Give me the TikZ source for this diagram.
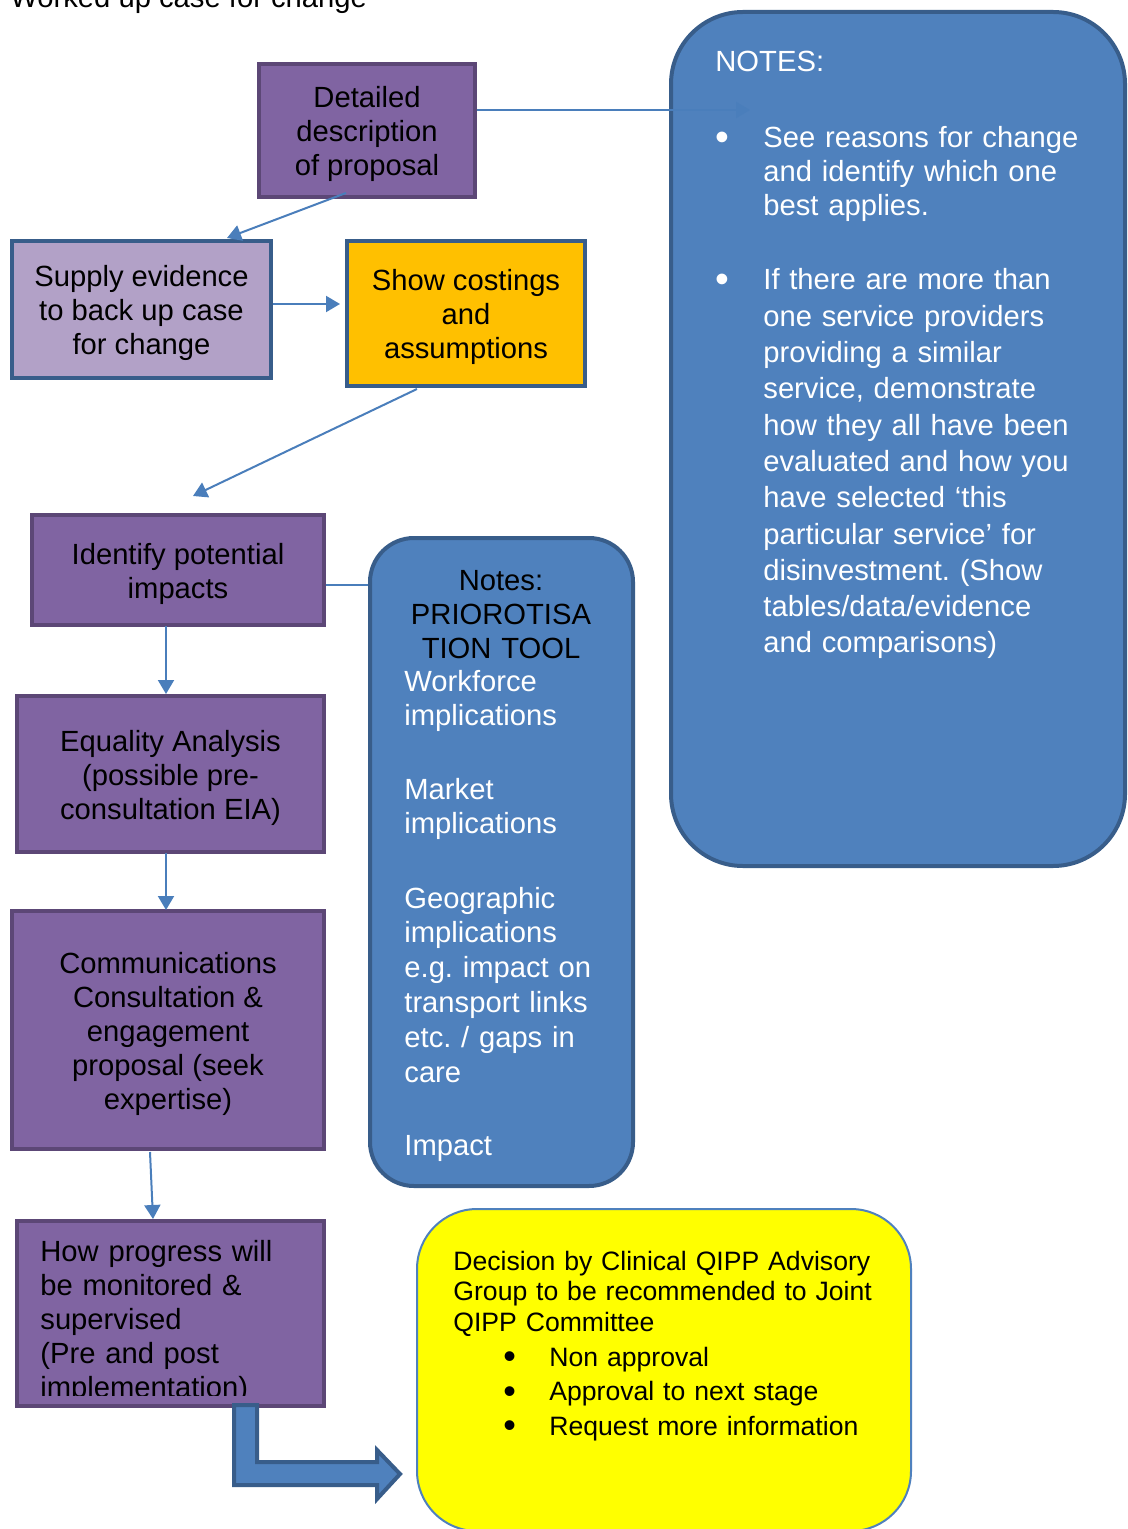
\documentclass[tikz,border=0pt]{standalone}
\usepackage{fontspec}
\usepackage{graphicx}
\setmainfont{Liberation Sans}
\usetikzlibrary{arrows.meta,calc}
\frenchspacing
\definecolor{purp}{HTML}{8064A2}
\definecolor{purpd}{HTML}{5C4776}
\definecolor{lav}{HTML}{B2A1C7}
\definecolor{orng}{HTML}{FFC000}
\definecolor{blu}{HTML}{4F81BD}
\definecolor{blud}{HTML}{385D8A}
\definecolor{connc}{HTML}{4A7EBB}
\definecolor{yel}{HTML}{FFFF00}
\newcommand\myfs{\fontsize{14.6pt}{17pt}\selectfont}
\newcommand\myfsb{\fontsize{14.6pt}{18.15pt}\selectfont}
\newcommand\myfsc{\fontsize{14.6pt}{17.4pt}\selectfont}
\newcommand\myfsy{\fontsize{13.3pt}{15.25pt}\selectfont}
\newcommand\myfsyb{\fontsize{13.3pt}{17.25pt}\selectfont}
\newcommand\mybul{\raisebox{-0.1em}{\scalebox{1.35}{\textbullet}}}
\begin{document}
\frenchspacing
\begin{tikzpicture}[x=0.5pt,y=-0.5pt,
  box/.style={draw, line width=2pt, rectangle, inner sep=0pt},
  pbox/.style={box, fill=purp, draw=purpd},
  btxt/.style={inner sep=0pt, align=center, font=\myfs},
  rnote/.style={draw=blud, fill=blu, line width=2pt, rectangle, inner sep=0pt},
  txt/.style={inner sep=0pt, anchor=base west, font=\myfs},
  conn/.style={draw=connc, line width=1pt, -{Triangle[length=7pt,width=8pt]}},
  connplain/.style={draw=connc, line width=1pt}
]
\useasboundingbox (0,0) rectangle (1128,1529);

% title
\node[txt] (title) at (10,8) {Worked up case for change};

% right notes box
\node[rnote, rounded corners=36pt, minimum width=227pt, minimum height=427pt] (notes1) at (898,439) {};
\node[txt, text=white] (n1t) at (715,72) {NOTES:};
\node[txt, text=white] (n1bul1) at (715,148) {\mybul};
\node[txt, text=white, text width=190pt] (n1a) at (763,148)
  {See reasons for change\\and identify which one\\best applies.};
\node[txt, text=white] (n1bul2) at (715,290) {\mybul};
\node[txt, text=white, text width=190pt, font=\myfsb] (n1b) at (763,290)
  {If there are more than\\one service providers\\providing a similar\\service, demonstrate\\how they all have been\\evaluated and how you\\have selected ‘this\\particular service’ for\\disinvestment. (Show\\tables/data/evidence\\and comparisons)};

% left column boxes
\node[pbox, minimum width=108pt, minimum height=66.5pt] (det) at (367,130.5) {};
\node[btxt] (detT) at ($(det.center)+(0,3.5)$) {Detailed\\description\\of proposal};
\node[box, fill=lav, draw=blud, minimum width=129.5pt, minimum height=68.5pt] (sup) at (141.5,309.5) {};
\node[btxt] (supT) at ($(sup.center)+(0,3.5)$) {Supply evidence\\to back up case\\for change};
\node[box, fill=orng, draw=blud, minimum width=119pt, minimum height=72.5pt] (cost) at (466,313.5) {};
\node[btxt] (costT) at ($(cost.center)+(0,3.5)$) {Show costings\\and\\assumptions};
\node[pbox, minimum width=146pt, minimum height=55pt] (ide) at (178,570) {};
\node[btxt] (ideT) at ($(ide.center)+(0,3.5)$) {Identify potential\\impacts};
\node[pbox, minimum width=153.5pt, minimum height=78pt] (eq) at (170.5,774) {};
\node[btxt] (eqT) at ($(eq.center)+(0,3.5)$) {Equality Analysis\\(possible pre-\\consultation EIA)};
\node[pbox, minimum width=156pt, minimum height=119pt] (com) at (168,1030) {};
\node[btxt] (comT) at ($(com.center)+(0,3.5)$) {Communications\\Consultation \&\\engagement\\proposal (seek\\expertise)};
\node[pbox, minimum width=153.5pt, minimum height=92.5pt] (how) at (170.5,1313.5) {};
\begin{scope}
  \clip (17,1221) rectangle (324,1395);
  \node[txt, text width=150pt] (howT) at (40,1261) {How progress will\\be monitored \&\\supervised\\(Pre and post\\implementation)};
\end{scope}

% middle notes box
\node[rnote, rounded corners=22pt, minimum width=131.5pt, minimum height=324pt] (notes2) at (501.5,862) {};
\node[inner sep=0pt, anchor=base, text width=125pt, align=center, font=\myfs] (n2h) at (501,590) {Notes:\\PRIOROTISA\\TION TOOL};
\node[txt, text=white, text width=120pt, font=\myfsc] (n2a) at (404,691) {Workforce\\implications};
\node[txt, text=white, text width=120pt, font=\myfsc] (n2b) at (404,799) {Market\\implications};
\node[txt, text=white, text width=120pt, font=\myfsc] (n2c) at (404,908) {Geographic\\implications\\e.g. impact on\\transport links\\etc. / gaps in\\care};
\node[txt, text=white] (n2d) at (404,1155) {Impact};

% yellow decision box
\node[draw=blu, fill=yel, line width=1pt, rectangle, inner sep=0pt, rounded corners=30pt, minimum width=247pt, minimum height=161pt] (dec) at (664,1370) {};
\node[txt, text width=240pt, font=\myfsy] (decT) at (453,1270) {Decision by Clinical QIPP Advisory\\Group to be recommended to Joint\\QIPP Committee};
\node[txt, text width=200pt, font=\myfsyb] (decB) at (503,1366) {\makebox[23pt][l]{\mybul}Non approval\\\makebox[23pt][l]{\mybul}Approval to next stage\\\makebox[23pt][l]{\mybul}Request more information};

% connectors
\coordinate (n1in) at ($(notes1.north west)+(81,100)$);
\draw[conn] ($(det.east)+(0,-20.5)$) -- (n1in);
\draw[conn] ($(det.south)+(-21,-6)$) -- ($(sup.north)+(85.5,-1)$);
\draw[conn] ($(sup.east)+(0,-5.5)$) -- ($(cost.west)+(-5,-9.5)$);
\draw[conn] ($(cost.south)+(-49,1)$) -- ($(ide.north)+(15,-17)$);
\draw[conn] ($(ide.south)+(-12,-1)$) -- ($(eq.north)+(-4.5,0)$);
\draw[conn] ($(eq.south)+(-4.5,-1)$) -- ($(com.north)+(-2,1)$);
\draw[conn] ($(com.south)+(-18,1)$) -- ($(how.north)+(-17.5,0)$);
\draw[connplain] ($(ide.east)+(0,15)$) -- ($(notes2.north west)+(0,49)$);

% bent arrow
\draw[fill=blu, draw=blud, line width=2pt, line join=miter]
  (234,1405) -- (257,1405) -- (257,1462) -- (377,1462) -- (377,1450) -- (400,1474)
  -- (377,1499) -- (377,1485) -- (234,1485) -- cycle;
\end{tikzpicture}
\end{document}
